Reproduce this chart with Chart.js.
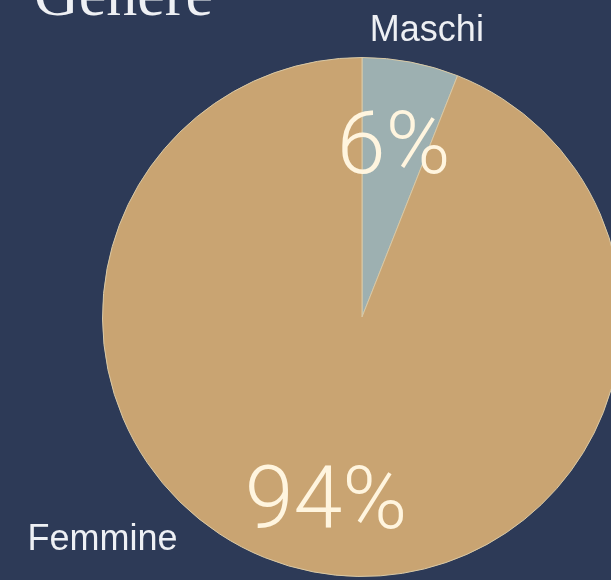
<!DOCTYPE html>
<html>
<head>
<meta charset="utf-8">
<script src="https://cdn.jsdelivr.net/npm/chart.js@4"></script>
<style>
  html, body { margin: 0; padding: 0; background: #2d3a57; overflow: hidden; }
  #wrap { position: absolute; left: 0; top: 0; width: 640px; height: 580px; }
</style>
</head>
<body>
<div id="wrap"><canvas id="pieChart"></canvas></div>
<script>
const title = 'Genere';
const categories = ['Maschi', 'Femmine'];
const values = [6, 94];
const colors = ['#9db0b1', '#c9a472'];

// where the inner % labels sit, as a fraction of the radius
const pctRadius = [0.65, 0.74];

const labelPlugin = {
    id: 'labels',
    afterDraw(chart) {
        const ctx = chart.ctx;
        const arcs = chart.getDatasetMeta(0).data;
        const total = values.reduce((a, b) => a + b, 0);
        const cx = arcs[0].x, cy = arcs[0].y, r = arcs[0].outerRadius;

        ctx.save();
        // title, cut by the top edge
        ctx.fillStyle = '#eef0f4';
        ctx.font = '62px "Liberation Serif", serif';
        ctx.textAlign = 'left';
        ctx.textBaseline = 'alphabetic';
        ctx.fillText(title, 34, 15);

        // percentages
        ctx.fillStyle = '#fff5df';
        ctx.font = '300 88px Roboto, sans-serif';
        ctx.textAlign = 'center';
        ctx.textBaseline = 'middle';
        arcs.forEach((arc, i) => {
            const mid = (arc.startAngle + arc.endAngle) / 2;
            const d = r * pctRadius[i];
            const pct = Math.round(values[i] / total * 100) + '%';
            ctx.fillText(pct, cx + Math.cos(mid) * d, cy + Math.sin(mid) * d);
        });

        // category names outside the pie
        ctx.fillStyle = '#eef0f4';
        ctx.font = '36px "Liberation Sans", Arial, sans-serif';
        ctx.fillText(categories[0], cx + r * 0.25, cy - r * 1.1);
        ctx.fillText(categories[1], cx - r * 1.0, cy + r * 0.86);
        ctx.restore();
    }
};

const chart = new Chart(document.getElementById('pieChart'), {
    type: 'pie',
    data: {
        labels: categories,
        datasets: [{
            data: values,
            backgroundColor: colors,
            borderColor: '#d9c9a6',
            borderWidth: 1
        }]
    },
    options: {
        responsive: true,
        maintainAspectRatio: false,
        animation: false,
        layout: {
            padding: { left: 102, top: 57, right: 18, bottom: 3 }
        },
        plugins: {
            legend: { display: false },
            tooltip: { enabled: false }
        }
    },
    plugins: [labelPlugin]
});
</script>
</body>
</html>
